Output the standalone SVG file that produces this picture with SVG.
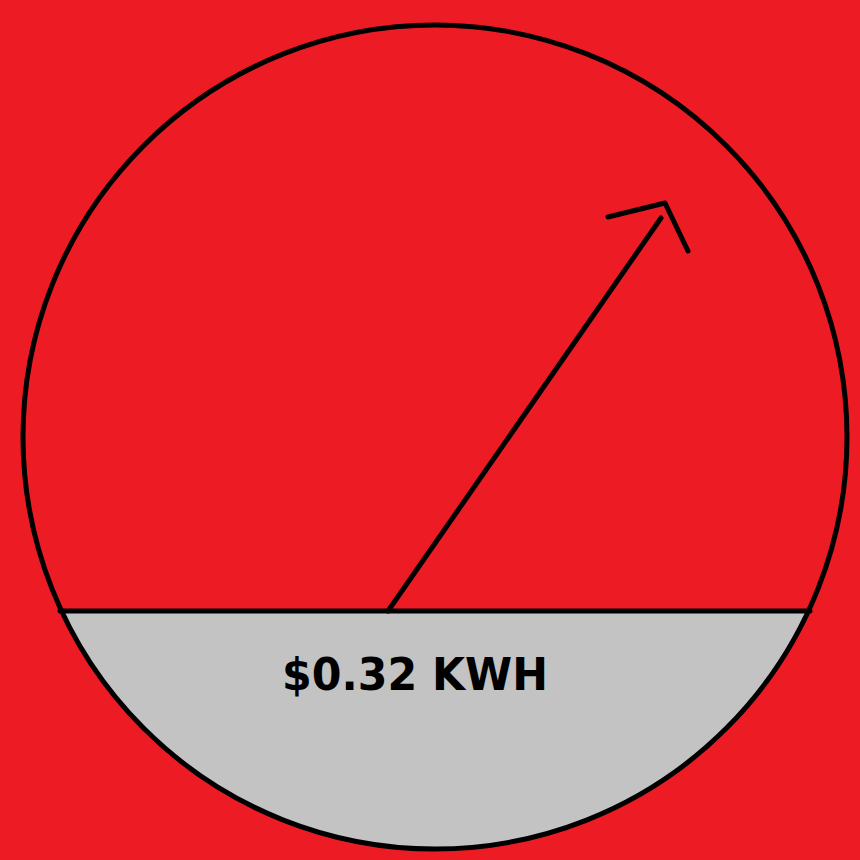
<svg xmlns="http://www.w3.org/2000/svg" width="860" height="860" viewBox="0 0 860 860">
<style>
.ln{stroke:#000;stroke-width:5;stroke-linecap:round;fill:none}
.lbl{font-family:"DejaVu Sans","Liberation Sans",sans-serif;font-weight:bold;font-size:45px;fill:#000}
</style>
<defs><clipPath id="c"><circle cx="435" cy="437" r="412"/></clipPath></defs>
<rect width="860" height="860" fill="#ED1C24"/>
<g id="dial">
<rect x="0" y="611" width="860" height="260" fill="#C3C3C3" clip-path="url(#c)"/>
<circle cx="435" cy="437" r="412" class="ln"/>
<line x1="60" y1="611" x2="810" y2="611" class="ln"/>
</g>
<g id="connectors">
<line x1="388" y1="611" x2="661" y2="218" class="ln"/>
<polyline points="608,217 665,203 688,251" class="ln" stroke-linejoin="round"/>
</g>
<g id="label">
<text x="415" y="690" text-anchor="middle" class="lbl" textLength="266" lengthAdjust="spacingAndGlyphs">$0.32 KWH</text>
</g>
</svg>
